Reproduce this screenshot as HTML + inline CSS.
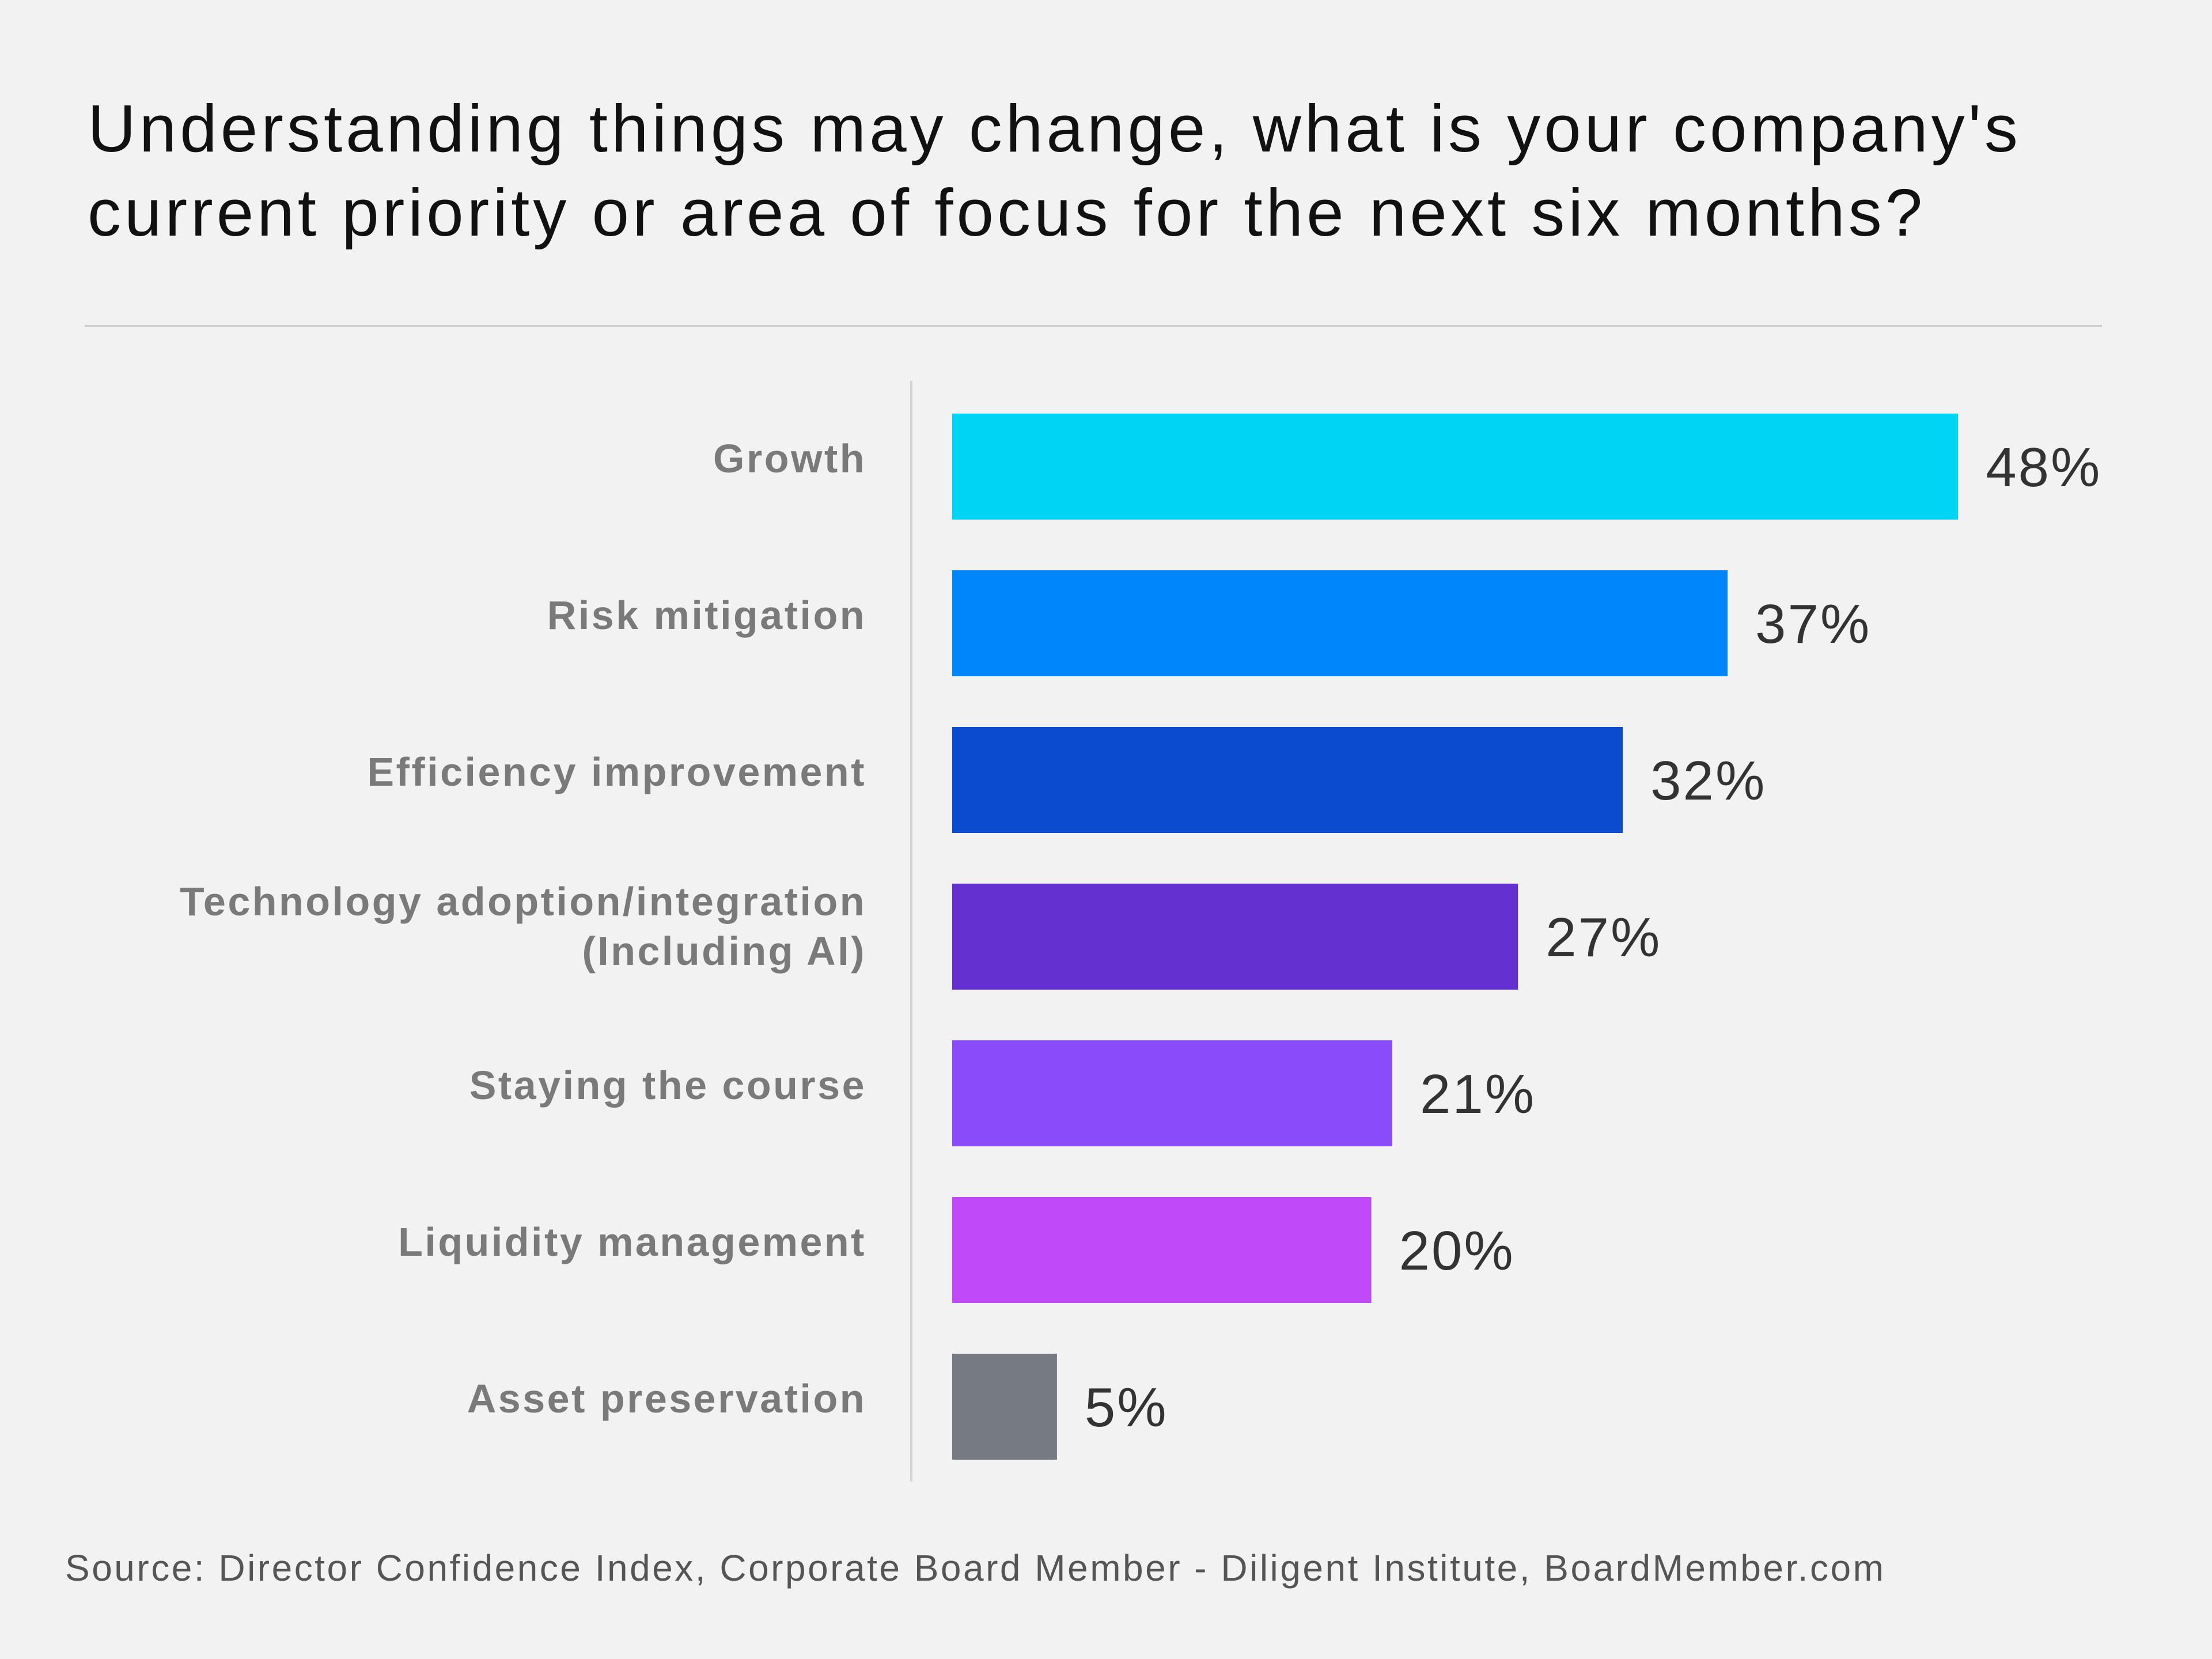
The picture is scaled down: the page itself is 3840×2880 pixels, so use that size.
<!DOCTYPE html>
<html><head><meta charset="utf-8"><style>
html,body{margin:0;padding:0;background:#f2f2f2;}
#wrap{position:relative;width:3840px;height:2880px;background:#f2f2f2;font-family:"Liberation Sans",sans-serif;overflow:hidden;}
.title{position:absolute;left:152px;top:150px;font-size:116px;line-height:146px;color:#111;letter-spacing:6px;}
.src{position:absolute;left:113px;top:2685px;font-size:64px;color:#555;letter-spacing:3.5px;}
</style></head><body>
<div id="wrap">
<div class="title">Understanding things may change, what is your company's<br>current priority or area of focus for the next six months?</div>
<svg id="chart" width="3840" height="2880" style="position:absolute;left:0;top:0"></svg>
<div class="src">Source: Director Confidence Index, Corporate Board Member - Diligent Institute, BoardMember.com</div>
</div>
<script>
const categories = ["Growth","Risk mitigation","Efficiency improvement","Technology adoption/integration|(Including AI)","Staying the course","Liquidity management","Asset preservation"];
const values = [48,37,32,27,21,20,5];
const colors = ["#00d4f4","#0086fb","#0a4bd0","#6430d0","#8a4cfb","#c04afa","#767a83"];
const NS="http://www.w3.org/2000/svg";
const svg=document.getElementById('chart');
const x0=1653, pxPer=36.38, y0=810, step=272, barH=184;
function xs(v){return x0+v*pxPer;}
function yc(i){return y0+i*step;}
function mk(t,a){const e=document.createElementNS(NS,t);for(const k in a)e.setAttribute(k,a[k]);svg.appendChild(e);return e;}
const sep=mk('line',{x1:147,x2:3649,y1:566,y2:566,stroke:'#cfcfcf','stroke-width':4});


const ax=mk('line',{x1:1582,x2:1582,y1:661,y2:2572,stroke:'#d4d4d4','stroke-width':4});


categories.forEach((c,i)=>{
  const r=mk('rect',{x:x0,y:yc(i)-barH/2,width:xs(values[i])-x0,height:barH,fill:colors[i]});
  
  
  const lines=c.split('|');
  const t=mk('text',{x:1504,y:0,'text-anchor':'end','font-size':70,'font-weight':'bold',fill:'#7a7a7a','letter-spacing':3.5,'font-family':'Liberation Sans, sans-serif'});
  
  
  lines.forEach((l,j)=>{
    const ts=document.createElementNS(NS,'tspan');
    ts.setAttribute('x',1504);
    ts.setAttribute('y',yc(i)+10+(j-(lines.length-1)/2)*86-(lines.length>1?4:0));
    ts.textContent=l;t.appendChild(ts);
  });
  const v=mk('text',{x:xs(values[i])+48,y:yc(i)+34,'font-size':96,fill:'#333','letter-spacing':3,'font-family':'Liberation Sans, sans-serif'});
  
  
  v.textContent=values[i]+'%';
});
</script>
</body></html>
